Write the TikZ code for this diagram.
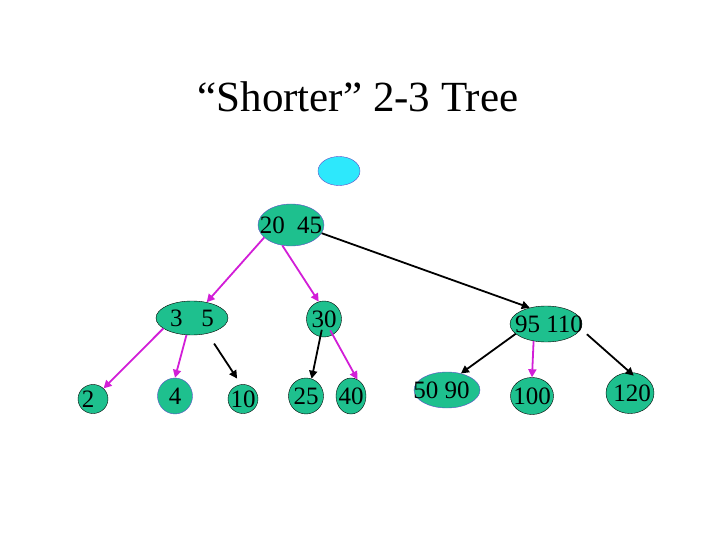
\documentclass[tikz,border=0pt]{standalone}
\usepackage{fontspec}
\setmainfont{Liberation Serif}
\usetikzlibrary{shapes.geometric,arrows.meta}
\definecolor{keyfill}{RGB}{30,192,142}
\definecolor{rootfill}{RGB}{45,232,252}
\definecolor{rimblue}{RGB}{95,80,200}
\definecolor{linkpink}{RGB}{210,30,215}
% label of zero width, so the ellipse keeps its own size
\newcommand{\keytext}[2][0pt]{\makebox[0pt]{\hspace*{#1}#2}}
\begin{document}
\begin{tikzpicture}[x=1pt,y=-1pt,
  key/.style={ellipse,draw=black,fill=keyfill,inner sep=0pt,font=\fontsize{25}{25}\selectfont},
  link/.style={line width=1.8pt,-{Triangle[length=8pt,width=8pt]}},
  pink/.style={link,draw=linkpink,fill=linkpink}]

\useasboundingbox (0,0) rectangle (720,540);
\node (title) at (358,97) {\fontsize{43}{43}\selectfont “Shorter” 2-3 Tree};
\node[ellipse,draw=rimblue,fill=rootfill,minimum width=42pt,minimum height=29pt] (top) at (339,171) {};

\node[key,draw=rimblue,minimum width=66pt,minimum height=42pt] (a) at (291,225) {\keytext{20\ \ 45}};
\node[key,minimum width=72pt,minimum height=34pt] (b) at (192,318) {\keytext{3\ \ \ 5}};
\node[key,minimum width=35pt,minimum height=36pt] (c) at (324,319) {\keytext{30}};
\node[key,minimum width=72pt,minimum height=36pt] (d) at (546,324) {\keytext[6pt]{95 110}};
\node[key,minimum width=30pt,minimum height=29pt] (b1) at (93,399) {\keytext[-10pt]{2}};
\node[key,draw=rimblue,minimum width=35pt,minimum height=36pt] (b2) at (175,396) {\keytext{4}};
\node[key,minimum width=30pt,minimum height=29pt] (b3) at (243,399) {\keytext{10}};
\node[key,minimum width=35pt,minimum height=36pt] (c1) at (306,396) {\keytext{25}};
\node[key,minimum width=30pt,minimum height=36pt] (c2) at (351,396) {\keytext{40}};
\node[key,draw=rimblue,minimum width=66pt,minimum height=36pt] (d1) at (447,390) {\keytext[-11pt]{50 90}};
\node[key,minimum width=43pt,minimum height=37pt] (d2) at (532,396) {\keytext{100}};
\node[key,minimum width=48pt,minimum height=41pt] (d3) at (630,393) {\keytext[4pt]{120}};

\draw[pink] (a.205) -- (b.47);
\draw[pink] (a.247) -- (c.107);
\draw[link] (a.345) -- (d.135);
\draw[pink] (b.200) -- (b1.45);
\draw[pink] (b.252) -- (b2.north);
\draw[link,shorten <=12pt,shorten >=7pt] (b.315) -- (b3.98);
\draw[link,shorten <=11pt] (c.center) -- (c1.72);
\draw[pink,shorten <=13pt] (c.center) -- (c2.69);
\draw[link] (d.198) -- (d1.50);
\draw[pink] (d.234) -- (d2.north);
\draw[link,shorten <=8pt,shorten >=-5pt] (d.352) -- (d3.north);

\end{tikzpicture}
\end{document}
